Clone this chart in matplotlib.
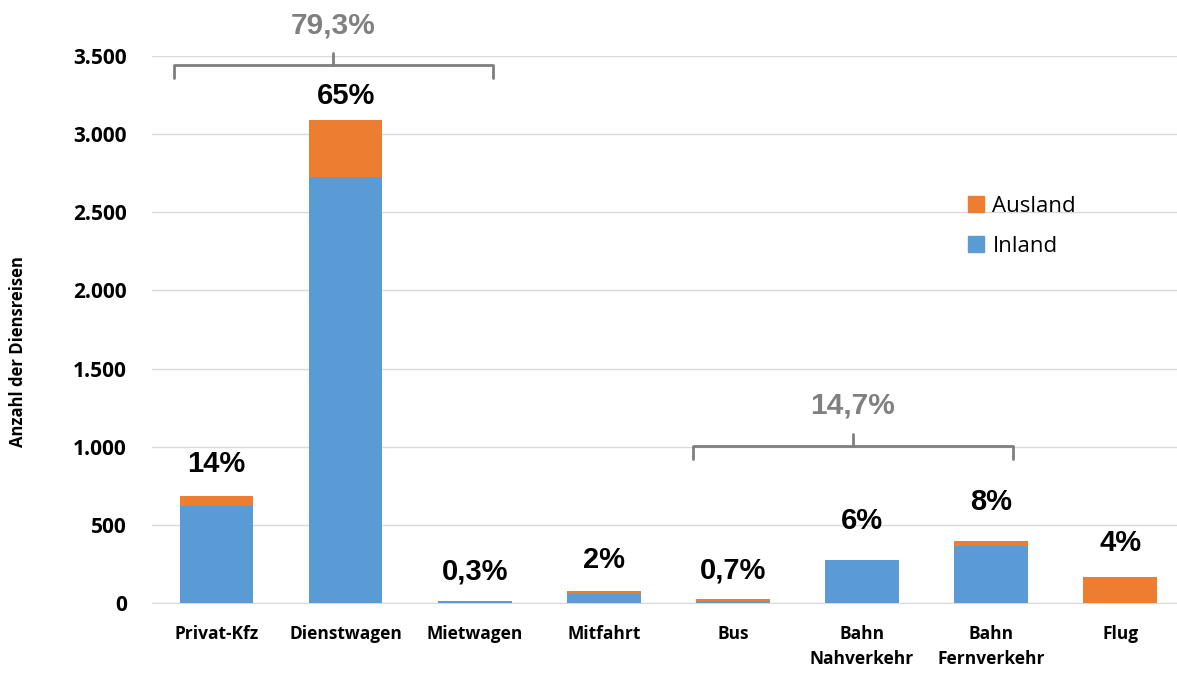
import matplotlib.pyplot as plt
from matplotlib.patches import Patch
from matplotlib.ticker import FuncFormatter

# ---------------------------------------------------------
# Data (Dienstreisen nach Verkehrsmittel)
# ---------------------------------------------------------
categories = ['Privat-Kfz', 'Dienstwagen', 'Mietwagen', 'Mitfahrt', 'Bus',
              'Bahn\nNahverkehr', 'Bahn\nFernverkehr', 'Flug']
inland = [620, 2725, 12, 56, 15, 275, 367, 0]
ausland = [65, 365, 0, 19, 11, 0, 32, 166]
shares = ['14%', '65%', '0,3%', '2%', '0,7%', '6%', '8%', '4%']

group_labels = ['79,3%', '14,7%']
group_ranges = [(-0.33, 2.14), (3.69, 6.17)]

blue = '#5B9BD5'
orange = '#ED7D31'
grey = '#7F7F7F'
ui_font = 'Open Sans'

# ---------------------------------------------------------
# Figure
# ---------------------------------------------------------
fig = plt.figure(figsize=(11.77, 6.73), dpi=100)
ax = fig.add_axes([152 / 1177, 70 / 673, 1 - 152 / 1177, 547 / 673])

x = list(range(len(categories)))
totals = [i + a for i, a in zip(inland, ausland)]

ax.bar(x, inland, width=0.57, color=blue, zorder=3, label='Inland')
ax.bar(x, ausland, width=0.57, bottom=inland, color=orange, zorder=3, label='Ausland')

ax.set_xlim(-0.5, 7.44)
ax.set_ylim(0, 3500)
ax.set_yticks(range(0, 3501, 500))
ax.yaxis.set_major_formatter(FuncFormatter(lambda v, p: f'{int(v):,}'.replace(',', '.')))
ax.grid(axis='y', color='#D9D9D9', linewidth=1, zorder=0)
for s in ['top', 'right', 'left']:
    ax.spines[s].set_visible(False)
ax.spines['bottom'].set_color('#D9D9D9')
ax.tick_params(axis='both', length=0)
ax.tick_params(axis='y', pad=18)
ax.tick_params(axis='x', pad=16)

ax.set_xticks(x)
ax.set_xticklabels(categories, fontfamily=ui_font, fontweight='bold', fontsize=12.5,
                   linespacing=1.45)
for lab in ax.get_yticklabels():
    lab.set_fontfamily(ui_font)
    lab.set_fontweight('bold')
    lab.set_fontsize(15)

fig.text(18 / 1177, 1 - 352 / 673, 'Anzahl der Diensreisen', rotation=90,
         ha='center', va='center', fontfamily=ui_font, fontweight='bold', fontsize=12)

# percentage labels over bars
offsets_px = [32, 24, 30, 31, 28, 39, 39, 34]
for xi, t, s, off in zip(x, totals, shares, offsets_px):
    ax.annotate(s, (xi, t), xytext=(0, off * 0.72), textcoords='offset points',
                ha='center', va='center', fontsize=21, fontweight='bold',
                fontfamily='Liberation Sans', color='black')

# curly brackets for groups
brace_y = [3442, 1005]
for (x0, x1), yb, lab in zip(group_ranges, brace_y, group_labels):
    xm = (x0 + x1) / 2
    dy = 3500 * 14 / 547
    ax.plot([x0, x0, x1, x1], [yb - dy * 0.95, yb, yb, yb - dy * 0.95],
            color=grey, linewidth=2, clip_on=False, solid_capstyle='round',
            solid_joinstyle='round', zorder=4)
    ax.plot([xm, xm], [yb, yb + dy * 0.85], color=grey, linewidth=2,
            clip_on=False, solid_capstyle='round', zorder=4)
    ax.annotate(lab, (xm, yb), xytext=(0, 40 * 0.72), textcoords='offset points',
                ha='center', va='center', fontsize=21.5, fontweight='bold',
                fontfamily='Liberation Sans', color='#808080', annotation_clip=False)

handles = [Patch(color=orange, label='Ausland'), Patch(color=blue, label='Inland')]
fig.legend(handles=handles, loc='upper left', bbox_to_anchor=(948 / 1177, 1 - 176 / 673),
           frameon=False, prop={'family': ui_font, 'size': 16},
           handlelength=0.7, handleheight=0.7, handletextpad=0.4, labelspacing=0.85)

fig.savefig('out.png', dpi=100)
